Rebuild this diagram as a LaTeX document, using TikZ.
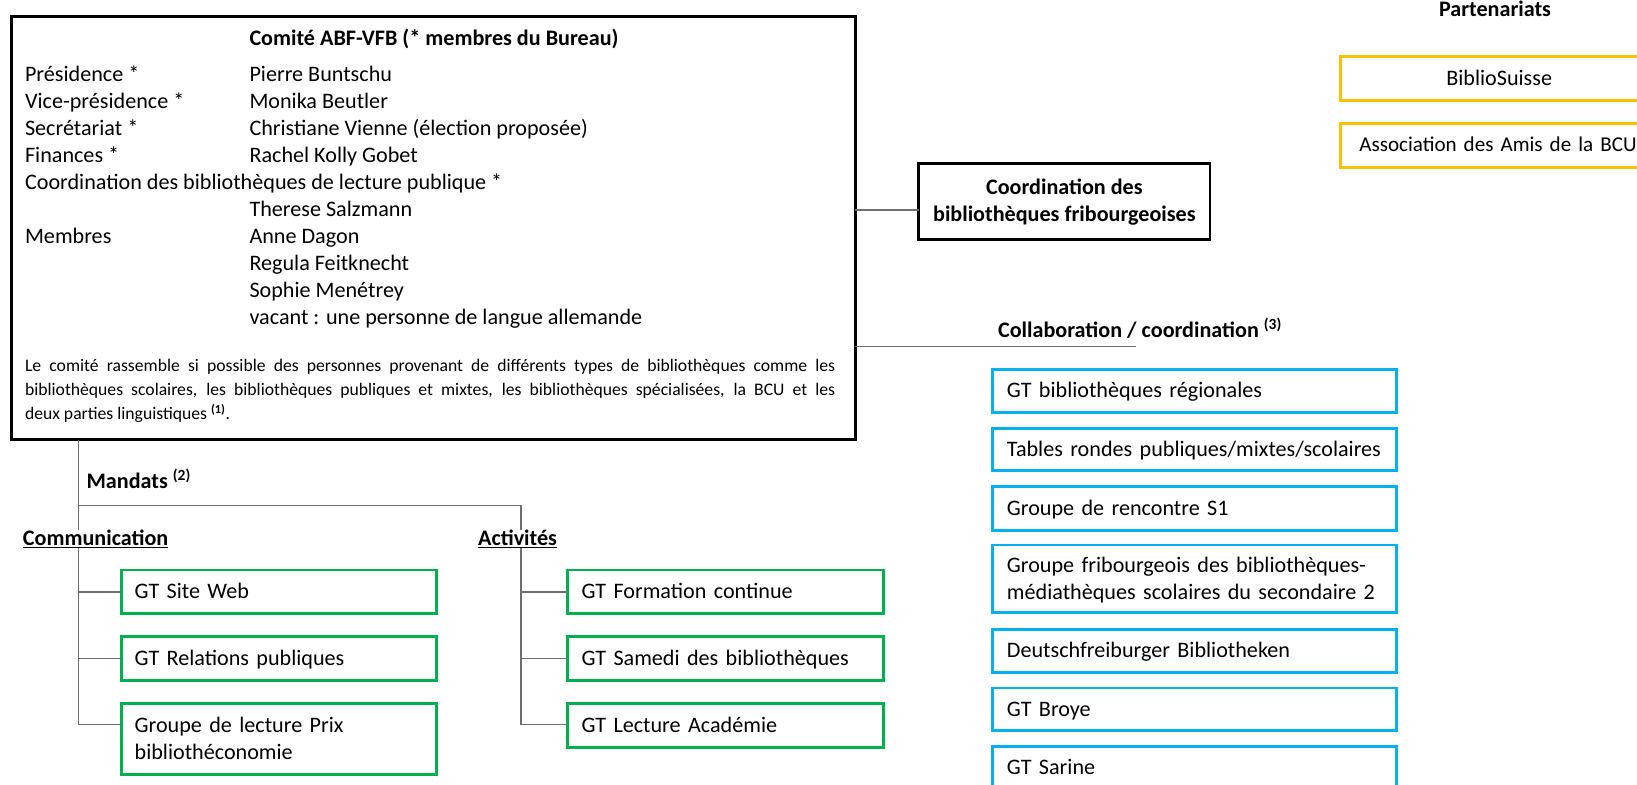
\documentclass[tikz,border=0pt]{standalone}
\usepackage{fontspec}
\setmainfont{Carlito}
\definecolor{boxgreen}{HTML}{00B050}
\definecolor{boxblue}{HTML}{00B0F0}
\definecolor{boxorange}{HTML}{FFC000}
\definecolor{conngray}{HTML}{6E6E6E}
\newcommand\bxs{\leavevmode\vrule width 0pt height 0.8em depth 0.19em\relax}
\newcommand\supb[1]{\textsuperscript{\bfseries #1}}
\begin{document}
\begin{tikzpicture}[x=1pt,y=-1pt,
  every node/.style={inner sep=0pt, outer sep=0pt},
  main/.style={font=\fontsize{21.2}{25.8}\selectfont},
  mainb/.style={font=\fontsize{21.2}{25.8}\selectfont\bfseries},
  small/.style={font=\fontsize{16.9}{23}\selectfont},
  conn/.style={draw=conngray, line width=1.3pt},
  txt/.style={main, anchor=base west},
  box/.style={draw, line width=2.8pt, rectangle, anchor=north west, main, align=left,
    execute at begin node=\bxs, execute at end node=\bxs},
  gbox/.style={box, draw=boxgreen, text width=276pt, inner xsep=13pt},
  bbox/.style={box, draw=boxblue, text width=360pt, inner xsep=13.5pt},
  obox/.style={box, draw=boxorange, text width=300pt, inner xsep=2pt, align=center},
]
\useasboundingbox (0,0) rectangle (1568,751);
\fill[white] (0,0) rectangle (1568,751);
\clip (0,0) rectangle (1568,751);

% ---------- Comité box ----------
\node[draw, line width=2.8pt, minimum width=808pt, minimum height=405pt, anchor=north west] (committee) at (11,16) {};
\node[mainb, anchor=base west] (title) at (239,44) {Comité ABF-VFB (* membres du Bureau)};
\node[txt] (l1) at (24,78.2) {Présidence *};
\node[txt] (l2) at (24,104) {Vice-présidence *};
\node[txt] (l3) at (24,129.8) {Secrétariat *};
\node[txt] (l4) at (24,155.6) {Finances *};
\node[txt] (l5) at (24,181.4) {Coordination des bibliothèques de lecture publique *};
\node[txt] (l7) at (24,233) {Membres};
\node[txt] (r1) at (239,78.2) {Pierre Buntschu};
\node[txt] (r2) at (239,104) {Monika Beutler};
\node[txt] (r3) at (239,129.8) {Christiane Vienne (élection proposée)};
\node[txt] (r4) at (239,155.6) {Rachel Kolly Gobet};
\node[txt] (r6) at (239,207.2) {Therese Salzmann};
\node[txt] (r7) at (239,233) {Anne Dagon};
\node[txt] (r8) at (239,258.8) {Regula Feitknecht};
\node[txt] (r9) at (239,284.6) {Sophie Menétrey};
\node[txt] (r10) at (239,310.4) {vacant : une personne de langue allemande};
\node[small, anchor=base west] (p1) at (24,356) {\makebox[776pt][s]{Le comité rassemble si possible des personnes provenant de différents types de bibliothèques comme les}};
\node[small, anchor=base west] (p2) at (24,378.4) {\makebox[776pt][s]{bibliothèques scolaires, les bibliothèques publiques et mixtes, les bibliothèques spécialisées, la BCU et les}};
\node[small, anchor=base west] (p3) at (24,402) {deux parties linguistiques \supb{(1)}.};

% ---------- Coordination ----------
\node[draw, line width=2.8pt, minimum width=279pt, minimum height=72pt, anchor=north west] (coord) at (880,157) {};
\node[mainb, anchor=base] (co1) at (1019.5,186) {Coordination des};
\node[mainb, anchor=base] (co2) at (1019.5,212) {bibliothèques fribourgeoises};
\coordinate (cin) at (880,201);
\draw[conn] (committee.east |- cin) -- (cin);

% ---------- Partenariats ----------
\node[mainb, anchor=base] (part) at (1432,16) {Partenariats};
\node[obox, minimum height=42pt] (o1) at (1284,54) {BiblioSuisse};
\node[obox, minimum height=42pt, align=left, text width=268pt, inner xsep=18pt,
      font=\fontsize{20.2}{25.8}\selectfont] (o2) at (1284,118) {Association des Amis de la BCU};

% ---------- Collaboration ----------
\node[mainb, anchor=base west] (collab) at (956,323) {Collaboration / coordination \supb{(3)}};
\coordinate (colend) at (1088,332);
\draw[conn] (committee.east |- colend) -- (colend);
\node[bbox, minimum height=41.5pt] (b1) at (951,354) {GT bibliothèques régionales};
\node[bbox, minimum height=41pt] (b2) at (951,410) {Tables rondes publiques/mixtes/scolaires};
\node[bbox, minimum height=42pt] (b3) at (951,466) {Groupe de rencontre S1};
\node[bbox, minimum height=65pt] (b4) at (951,522) {Groupe fribourgeois des bibliothèques-\\médiathèques scolaires du secondaire 2};
\node[bbox, minimum height=41pt] (b5) at (951,603) {Deutschfreiburger Bibliotheken};
\node[bbox, minimum height=41pt] (b6) at (951,659) {GT Broye};
\node[bbox, minimum height=41pt] (b7) at (951,715) {GT Sarine};

% ---------- Mandats ----------
\node[mainb, anchor=base west] (mand) at (83,467.6) {Mandats \supb{(2)}};
\node[mainb, anchor=base west] (comm) at (22,522.5) {\underline{Communication}};
\node[mainb, anchor=base west] (act) at (458,522.5) {\underline{Activités}};
\coordinate (mL) at (75,484);
\coordinate (mR) at (499,484);
\draw[conn] (committee.south -| mL) -- (mL) -- (mR) -- (act.north -| mR);
\draw[conn] (mL) -- (comm.north -| mL);

\node[gbox, minimum height=42pt] (g1) at (116,546) {GT Site Web};
\node[gbox, minimum height=42pt] (g2) at (116,610) {GT Relations publiques};
\node[gbox, minimum height=68pt] (g3) at (116,674) {Groupe de lecture Prix\\bibliothéconomie};
\node[gbox, minimum height=42pt] (a1) at (544,546) {GT Formation continue};
\node[gbox, minimum height=42pt] (a2) at (544,610) {GT Samedi des bibliothèques};
\node[gbox, minimum height=42pt] (a3) at (544,674) {GT Lecture Académie};

\coordinate (g3in) at (116,694);
\coordinate (a3in) at (544,694);
\draw[conn] (comm.south -| mL) -- (g3in -| mL) -- (g3in);
\draw[conn] (g1.west -| mL) -- (g1.west);
\draw[conn] (g2.west -| mL) -- (g2.west);
\draw[conn] (act.south -| mR) -- (a3in -| mR) -- (a3in);
\draw[conn] (a1.west -| mR) -- (a1.west);
\draw[conn] (a2.west -| mR) -- (a2.west);
\end{tikzpicture}
\end{document}
